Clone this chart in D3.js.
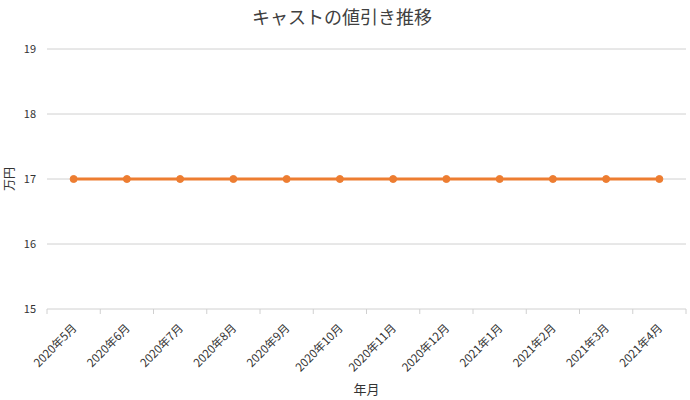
<!DOCTYPE html>
<html>
<head>
<meta charset="utf-8">
<script src="https://cdn.jsdelivr.net/npm/d3@7"></script>
<style>
  body { margin: 0; background: #fff; }
  text { font-family: "Noto Sans CJK JP", "Noto Sans", sans-serif; }
</style>
</head>
<body>
<div id="chart"></div>
<script>
// months on the x axis
var months = [
  "2020年5月", "2020年6月", "2020年7月", "2020年8月", "2020年9月", "2020年10月",
  "2020年11月", "2020年12月", "2021年1月", "2021年2月", "2021年3月", "2021年4月"
];

// discount per month (万円)
var discount = [17, 17, 17, 17, 17, 17, 17, 17, 17, 17, 17, 17];

// y axis ticks
var yTicks = [15, 16, 17, 18, 19];

var W = 690, H = 400;
var margin = { top: 49, right: 4, bottom: 91, left: 47 },
  width = W - margin.left - margin.right,
  height = H - margin.top - margin.bottom;

var svg = d3.select("#chart")
  .append("svg")
  .attr("width", W)
  .attr("height", H);

var g = svg.append("g")
  .attr("transform", "translate(" + margin.left + "," + margin.top + ")");

var x = d3.scaleBand().domain(months).range([0, width]);
var y = d3.scaleLinear().domain([15, 19]).range([height, 0]);

// gridlines
g.selectAll(".grid")
  .data(yTicks.slice(1))
  .enter()
  .append("line")
  .attr("x1", 0)
  .attr("x2", width)
  .attr("y1", function (d) { return y(d); })
  .attr("y2", function (d) { return y(d); })
  .attr("stroke", "#d0d0d0")
  .attr("stroke-width", 1);

// y axis labels
g.selectAll(".ylab")
  .data(yTicks)
  .enter()
  .append("text")
  .attr("x", -11)
  .attr("y", function (d) { return y(d); })
  .attr("dy", "0.35em")
  .attr("text-anchor", "end")
  .attr("font-size", 11)
  .attr("fill", "#333")
  .text(function (d) { return d; });

// x axis line + tick marks at band edges
g.append("line")
  .attr("x1", 0).attr("x2", width)
  .attr("y1", height).attr("y2", height)
  .attr("stroke", "#d0d0d0");

var edges = months.map(function (m) { return x(m); }).concat([width]);
g.selectAll(".xtick")
  .data(edges)
  .enter()
  .append("line")
  .attr("x1", function (d) { return d; })
  .attr("x2", function (d) { return d; })
  .attr("y1", height)
  .attr("y2", height + 5)
  .attr("stroke", "#d0d0d0");

// x axis labels, rotated
g.selectAll(".xlab")
  .data(months)
  .enter()
  .append("text")
  .attr("transform", function (d) {
    return "translate(" + (x(d) + x.bandwidth() / 2 + 1) + "," + (height + 17) + ") rotate(-45)";
  })
  .attr("text-anchor", "end")
  .attr("dy", "0.35em")
  .attr("font-size", 11.5)
  .attr("fill", "#333")
  .text(function (d) { return d; });

// the line
var valueline = d3.line()
  .x(function (d, i) { return x(months[i]) + x.bandwidth() / 2; })
  .y(function (d) { return y(d); });

g.append("path")
  .datum(discount)
  .attr("d", valueline)
  .attr("fill", "none")
  .attr("stroke", "#ed7d31")
  .attr("stroke-width", 3);

g.selectAll(".dot")
  .data(discount)
  .enter()
  .append("circle")
  .attr("cx", function (d, i) { return x(months[i]) + x.bandwidth() / 2; })
  .attr("cy", function (d) { return y(d); })
  .attr("r", 3.5)
  .attr("fill", "#ed7d31")
  .attr("stroke", "#ed7d31");

// title
svg.append("text")
  .attr("x", 342)
  .attr("y", 24)
  .attr("text-anchor", "middle")
  .attr("font-size", 18)
  .attr("fill", "#404040")
  .text("キャストの値引き推移");

// axis titles
svg.append("text")
  .attr("transform", "translate(14," + (margin.top + y(17)) + ") rotate(-90)")
  .attr("text-anchor", "middle")
  .attr("font-size", 12)
  .attr("fill", "#333")
  .text("万円");

svg.append("text")
  .attr("x", margin.left + width / 2)
  .attr("y", 394)
  .attr("text-anchor", "middle")
  .attr("font-size", 13)
  .attr("fill", "#333")
  .text("年月");
</script>
</body>
</html>
